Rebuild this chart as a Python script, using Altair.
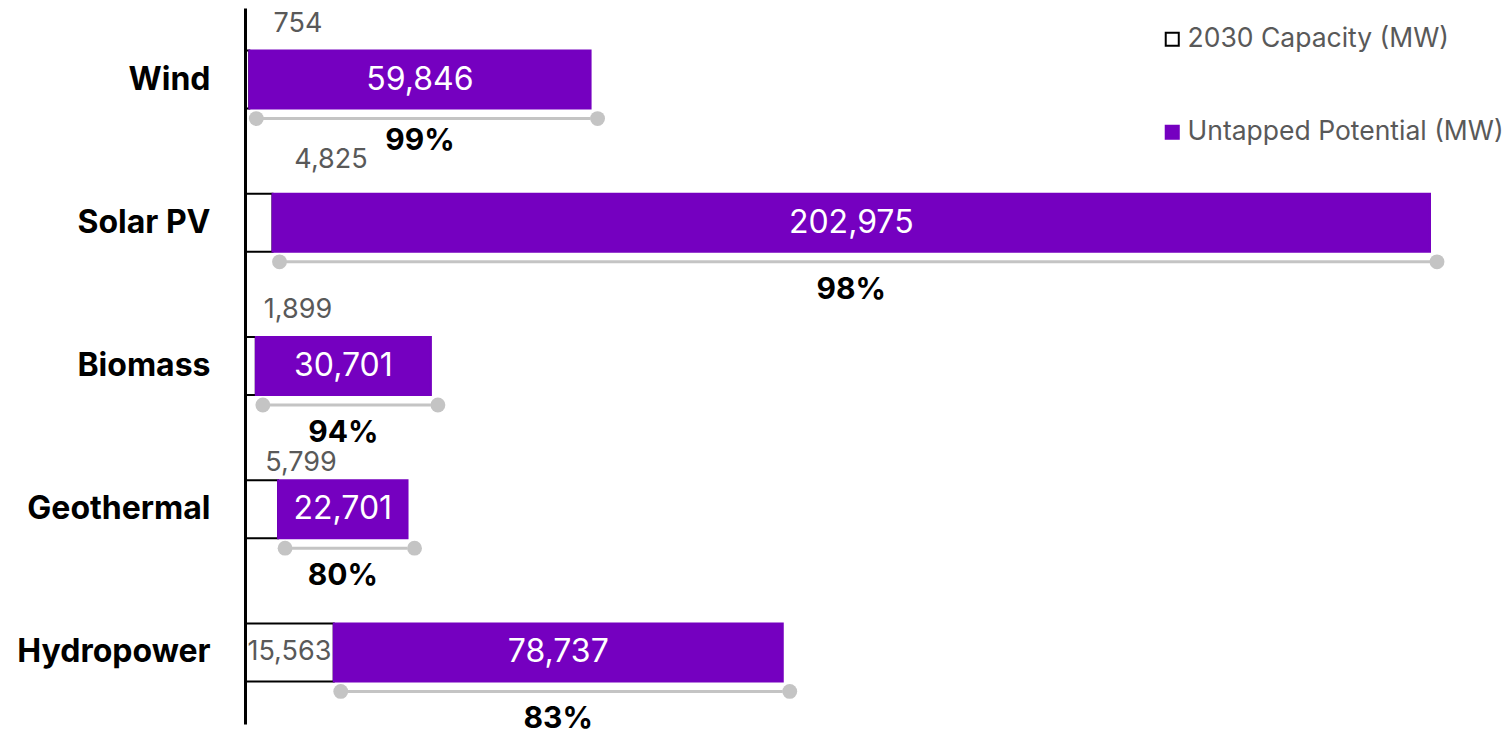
import altair as alt
import pandas as pd

categories = ["Wind", "Solar PV", "Biomass", "Geothermal", "Hydropower"]
capacity_2030 = [754, 4825, 1899, 5799, 15563]
untapped = [59846, 202975, 30701, 22701, 78737]
untapped_share = ["99%", "98%", "94%", "80%", "83%"]
series = ["2030 Capacity (MW)", "Untapped Potential (MW)"]

PURPLE = "#7500C0"
FONT = "Inter"

rows = []
wide = []
for c, cap, un, sh in zip(categories, capacity_2030, untapped, untapped_share):
    total = cap + un
    rows.append({"cat": c, "series": series[0], "start": 0, "end": cap})
    rows.append({"cat": c, "series": series[1], "start": cap, "end": total})
    wide.append({"cat": c, "cap": cap, "un": un, "total": total, "share": sh,
                 "cap_label": f"{cap:,}", "un_label": f"{un:,}",
                 "cap_mid": cap / 2, "un_mid": cap + un / 2})
long_df = pd.DataFrame(rows)
wide_df = pd.DataFrame(wide)

y_enc = alt.Y("cat:N", sort=categories,
              scale=alt.Scale(paddingInner=0.595, paddingOuter=0.2975),
              axis=alt.Axis(title=None, ticks=False, labelFont=FONT, labelFontSize=32,
                            labelFontWeight="bold", labelColor="black", labelPadding=35,
                            labelLimit=0, domainColor="black", domainWidth=3,
                            minExtent=237, maxExtent=237, zindex=1))
x_scale = alt.Scale(domain=[0, 217445], nice=False, zero=True)
Y = alt.Y("cat:N", sort=categories)

bars = alt.Chart(long_df).mark_bar(strokeWidth=2).encode(
    y=y_enc,
    x=alt.X("start:Q", scale=x_scale, axis=None),
    x2="end:Q",
    fill=alt.Fill("series:N", scale=alt.Scale(domain=series, range=["white", PURPLE]),
                  legend=alt.Legend(title=None, orient="none", legendX=914, legendY=18,
                                    labelFont=FONT, labelFontSize=26.5, labelColor="#595959",
                                    labelLimit=0, symbolType="square", symbolSize=170,
                                    symbolStrokeWidth=2, rowPadding=66, labelOffset=2)),
    stroke=alt.Stroke("series:N", scale=alt.Scale(domain=series, range=["black", PURPLE]),
                      legend=None),
)

base = alt.Chart(wide_df)

un_text = base.mark_text(font=FONT, fontSize=32, color="white", align="center",
                         baseline="middle").encode(
    y=Y, x=alt.X("un_mid:Q", scale=x_scale), text="un_label:N")

dumb_rule = base.mark_rule(color="#C4C4C4", strokeWidth=3, xOffset=7, yOffset=39).encode(
    y=Y, x=alt.X("cap:Q", scale=x_scale), x2="total:Q")
dumb_start = base.mark_circle(color="#C4C4C4", opacity=1, size=220, xOffset=7,
                              yOffset=39).encode(y=Y, x=alt.X("cap:Q", scale=x_scale))
dumb_end = base.mark_circle(color="#C4C4C4", opacity=1, size=220, xOffset=7,
                            yOffset=39).encode(y=Y, x=alt.X("total:Q", scale=x_scale))

share_text = base.transform_filter("datum.cat != 'Wind'").mark_text(
    font=FONT, fontSize=30, fontWeight="bold", color="black",
    align="center", baseline="middle", dy=67).encode(
    y=Y, x=alt.X("un_mid:Q", scale=x_scale), text="share:N")
share_text_wind = base.transform_filter("datum.cat == 'Wind'").mark_text(
    font=FONT, fontSize=30, fontWeight="bold", color="black",
    align="center", baseline="middle", dy=61).encode(
    y=Y, x=alt.X("un_mid:Q", scale=x_scale), text="share:N")

cap_text = base.transform_filter(
    "datum.cat == 'Wind' || datum.cat == 'Biomass'"
).mark_text(font=FONT, fontSize=27, color="#595959", align="center",
            baseline="middle", dx=53, dy=-56).encode(
    y=Y, x=alt.value(0), text="cap_label:N")

cap_text_geo = base.transform_filter("datum.cat == 'Geothermal'").mark_text(
    font=FONT, fontSize=27, color="#595959", align="center", baseline="middle",
    dx=56, dy=-46).encode(y=Y, x=alt.value(0), text="cap_label:N")

cap_text_solar = base.transform_filter("datum.cat == 'Solar PV'").mark_text(
    font=FONT, fontSize=27, color="#595959", align="center", baseline="middle",
    dx=86, dy=-63).encode(y=Y, x=alt.value(0), text="cap_label:N")

cap_text_hydro = base.transform_filter("datum.cat == 'Hydropower'").mark_text(
    font=FONT, fontSize=27, color="#595959", align="center", baseline="middle").encode(
    y=Y, x=alt.X("cap_mid:Q", scale=x_scale), text="cap_label:N")

chart = alt.layer(
    bars, un_text, dumb_rule, dumb_start, dumb_end, share_text, share_text_wind,
    cap_text, cap_text_geo, cap_text_solar, cap_text_hydro
).properties(
    width=1240, height=716, padding=0
).configure_view(stroke=None)

chart.save("out.html", embed_options={"renderer": "svg", "actions": False})
